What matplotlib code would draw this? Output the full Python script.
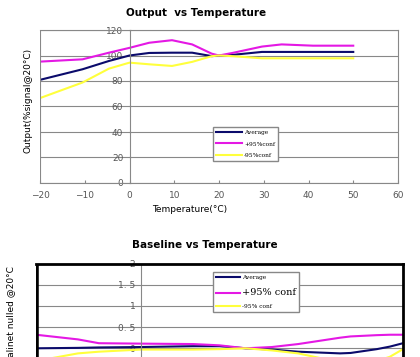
import matplotlib
matplotlib.use("Agg")
import matplotlib.pyplot as plt

# top chart: output vs temperature
out_temp = [-20, -10.5, -4.6, 0, 4.4, 9.5, 14, 18.4, 20, 23, 29.6, 34, 41, 50]
out_avg = [80.9, 89.2, 95.7, 100, 102, 102.2, 102.2, 99.5, 100, 100.5, 102.8, 102.8, 102.8, 102.8]
out_hi = [95.2, 97, 102.2, 106, 110, 112, 108.7, 101.4, 100, 102, 107, 108.7, 107.7, 107.7]
out_lo = [66.6, 78.8, 89.7, 94.4, 93.1, 91.8, 95, 99.5, 100, 99.5, 97.8, 97.8, 97.8, 97.8]

# bottom chart: baseline vs temperature
base_temp = [-20, -12, -8, 0, 10, 15, 20, 25, 30, 38, 40, 45, 47.5, 50]
base_avg = [0.0, 0.01, 0.02, 0.03, 0.05, 0.05, 0.0, -0.03, -0.08, -0.12, -0.11, -0.02, 0.04, 0.12]
base_hi = [0.32, 0.21, 0.12, 0.11, 0.1, 0.07, 0.0, 0.03, 0.1, 0.25, 0.28, 0.31, 0.32, 0.32]
base_lo = [-0.3, -0.12, -0.08, -0.03, -0.03, -0.02, 0.0, -0.05, -0.12, -0.33, -0.35, -0.3, -0.2, -0.02]

out_yticks = [0, 20, 40, 60, 80, 100, 120]
out_xticks = [-20, -10, 0, 10, 20, 30, 40, 50, 60]
base_yticks = [0, 0.5, 1, 1.5, 2]
base_ylabels = ["0", "0. 5", "1", "1. 5", "2"]

NAVY = "#0b0b6b"
MAG = "#e418e4"
YEL = "#ffff3c"
GRAY = "#555555"

W, H = 420, 357
fig = plt.figure(figsize=(4.2, 3.57), dpi=100)


def fx(px):
    return px / W


def fy(py):
    return 1 - py / H


# ---- top chart ----
ax1 = fig.add_axes([fx(40), fy(183), fx(398 - 40), (183 - 30) / H])
ax1.plot(out_temp, out_avg, color=NAVY, lw=1.5, label="Average")
ax1.plot(out_temp, out_hi, color=MAG, lw=1.5, label="+95%conf")
ax1.plot(out_temp, out_lo, color=YEL, lw=1.5, label="-95%conf")
ax1.set_xlim(-20, 60)
ax1.set_ylim(0, 120)
ax1.set_yticks(out_yticks)
ax1.set_xticks(out_xticks)
ax1.yaxis.grid(True, color="#888888", lw=0.8)
ax1.set_axisbelow(True)
for s in ax1.spines.values():
    s.set_color("#888888")
    s.set_linewidth(0.8)
ax1.spines["left"].set_position(("data", 0))
ax1.axvline(-20, color="#888888", lw=0.8)
ax1.tick_params(axis="both", labelsize=6.5, labelcolor=GRAY, color="#888888",
                length=2, direction="inout")
ax1.tick_params(axis="x", direction="in", pad=6)
ax1.legend(loc="upper left", bbox_to_anchor=(fx(213), fy(127)),
           bbox_transform=fig.transFigure, borderaxespad=0, fancybox=False,
           edgecolor="#888888", framealpha=1, prop={"family": "DejaVu Serif", "size": 4.2},
           handlelength=4.5, handletextpad=0.3, labelspacing=1.1, borderpad=0.5)
fig.text(fx(196), fy(13), "Output  vs Temperature", ha="center", va="center",
         fontsize=7.5, fontweight="bold")
fig.text(fx(190), fy(210), "Temperature(°C)", ha="center", va="center", fontsize=6.5)
fig.text(fx(28), fy(100), "Output(%signal@20°C)", ha="center", va="center",
         rotation=90, fontsize=6.5)

# ---- bottom chart ----
bot_top, bot_bottom = 263.5, 369.5
ax2 = fig.add_axes([fx(36), fy(bot_bottom), fx(403 - 36), (bot_bottom - bot_top) / H])
ax2.plot(base_temp, base_avg, color=NAVY, lw=1.5, label="Average")
ax2.plot(base_temp, base_hi, color=MAG, lw=1.5, label="+95% conf")
ax2.plot(base_temp, base_lo, color=YEL, lw=1.5, label="-95% conf")
ax2.set_xlim(-20, 50)
ax2.set_ylim(-0.5, 2)
ax2.set_yticks(base_yticks)
ax2.set_yticklabels(base_ylabels, family="DejaVu Serif")
ax2.set_xticks([])
ax2.yaxis.grid(True, color="#888888", lw=0.8)
ax2.set_axisbelow(True)
for s in ax2.spines.values():
    s.set_color("black")
    s.set_linewidth(2)
# y axis sits at x=0 (gray line), frame border drawn at x=-20
ax2.spines["left"].set_position(("data", 0))
ax2.spines["left"].set_color("#888888")
ax2.spines["left"].set_linewidth(0.8)
ax2.axvline(-20, color="black", lw=4)
ax2.tick_params(axis="y", length=0, labelsize=6.5, labelcolor=GRAY, pad=4)
leg2 = ax2.legend(loc="upper left", bbox_to_anchor=(fx(213), fy(272)),
                  bbox_transform=fig.transFigure, borderaxespad=0, fancybox=False,
                  edgecolor="#888888", framealpha=1,
                  prop={"family": "DejaVu Serif", "size": 4.2},
                  handlelength=4.2, handletextpad=0.2, labelspacing=1.3, borderpad=0.5)
leg2.get_texts()[1].set_fontsize(7)
fig.text(fx(205), fy(245), "Baseline vs Temperature", ha="center", va="center",
         fontsize=7.5, fontweight="bold")
fig.text(fx(12), fy(266), "Equivalinet nulled @20°C", ha="center", va="top",
         rotation=90, fontsize=6.5)

fig.savefig("out.png", dpi=100)
